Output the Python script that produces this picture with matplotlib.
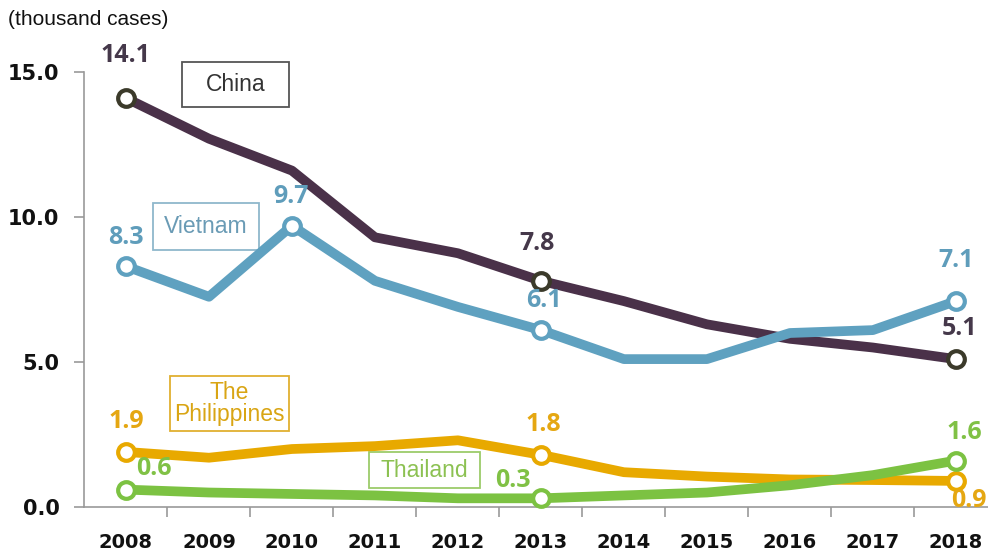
"""Marriage-migrant cases by nationality, 2008-2018."""
import matplotlib

matplotlib.use("Agg")
import matplotlib.pyplot as plt
from matplotlib.patches import Rectangle
from matplotlib.ticker import FixedLocator

years = ["2008", "2009", "2010", "2011", "2012", "2013",
         "2014", "2015", "2016", "2017", "2018"]
china = [14.1, 12.7, 11.6, 9.3, 8.75, 7.8, 7.1, 6.3, 5.8, 5.5, 5.1]
vietnam = [8.3, 7.25, 9.7, 7.8, 6.9, 6.1, 5.1, 5.1, 6.0, 6.1, 7.1]
philippines = [1.9, 1.7, 2.0, 2.1, 2.3, 1.8, 1.2, 1.05, 0.95, 0.93, 0.9]
thailand = [0.6, 0.5, 0.45, 0.4, 0.3, 0.3, 0.4, 0.5, 0.75, 1.1, 1.6]
names = ["China", "Vietnam", "The\nPhilippines", "Thailand"]

# line colour, marker edge, value-label colour, name colour, box edge
styles = [
    ("#4a3149", "#3b3a2a", "#45384a", "#333333", "#555555"),
    ("#5fa1c0", "#5fa1c0", "#5f9dbb", "#6a9bb5", "#8fb8cc"),
    ("#e8a900", "#e8a900", "#e5a712", "#d9a514", "#e0b030"),
    ("#7cc242", "#7cc242", "#80c145", "#8cc152", "#9ccc6a"),
]
# labelled points and their label offsets (pt)
labelled = [
    ([0, 5, 10], [(0, 31), (-3, 27), (3, 22)]),
    ([0, 2, 5, 10], [(0, 21), (-1, 21), (2, 21), (0, 29)]),
    ([0, 5, 10], [(0, 22), (2, 22), (9, -14)]),
    ([0, 5, 10], [(20, 15), (-20, 13), (6, 20)]),
]
# name boxes: centre x, centre y, width, height (data units)
boxes = [
    (1.325, 14.57, 1.29, 1.55),
    (0.964, 9.67, 1.277, 1.6),
    (1.247, 3.57, 1.434, 1.9),
    (3.596, 1.276, 1.337, 1.24),
]

fig = plt.figure(figsize=(9.88, 5.56), dpi=100)
ax = fig.add_axes([0.0855, 0.0881, 0.924, 0.7824])
x = list(range(len(years)))

for vals, name, st, (idx, offs), (bx, by, bw, bh) in zip(
        [china, vietnam, philippines, thailand], names, styles, labelled, boxes):
    col, medge, tcol, ncol, ecol = st
    ax.plot(x, vals, color=col, lw=7, solid_joinstyle="round",
            solid_capstyle="round", zorder=2)
    ax.plot([x[i] for i in idx], [vals[i] for i in idx], ls="none", marker="o",
            ms=12, mfc="white", mec=medge, mew=3, zorder=3, clip_on=False)
    for i, (dx, dy) in zip(idx, offs):
        ax.annotate(f"{vals[i]:.1f}", (x[i], vals[i]), xytext=(dx, dy),
                    textcoords="offset points", ha="center", va="center",
                    fontsize=18, fontweight="bold", family="Open Sans",
                    color=tcol, annotation_clip=False, zorder=4)
    ax.add_patch(Rectangle((bx - bw / 2, by - bh / 2), bw, bh, fc="white",
                           ec=ecol, lw=1.3, zorder=1, clip_on=False))
    ax.text(bx, by, name, ha="center", va="center", fontsize=16.5,
            family="Liberation Sans", color=ncol, linespacing=0.9, zorder=1.5)

ax.set_xlim(-0.5, 10.5)
ax.set_ylim(0, 15)
ax.set_xticks(x)
ax.set_xticklabels(years)
ax.xaxis.set_minor_locator(FixedLocator([i + 0.5 for i in range(10)]))
ax.tick_params(axis="x", which="major", length=0, pad=19, labelsize=14)
ax.tick_params(axis="x", which="minor", length=7, color="#999999", width=1.2)
ax.set_yticks([0, 5, 10, 15])
ax.set_yticklabels(["0.0", "5.0", "10.0", "15.0"])
ax.tick_params(axis="y", length=7, color="#999999", width=1.2, pad=11,
               labelsize=15)
for lab in ax.get_xticklabels() + ax.get_yticklabels():
    lab.set_fontweight("bold")
    lab.set_color("#111111")
for s in ["top", "right"]:
    ax.spines[s].set_visible(False)
for s in ["left", "bottom"]:
    ax.spines[s].set_color("#999999")
    ax.spines[s].set_linewidth(1.2)

fig.text(0.008, 0.965, "(thousand cases)", fontsize=15,
         family="Liberation Sans", color="#111111", va="center", ha="left")

fig.savefig("out.png", dpi=100)
